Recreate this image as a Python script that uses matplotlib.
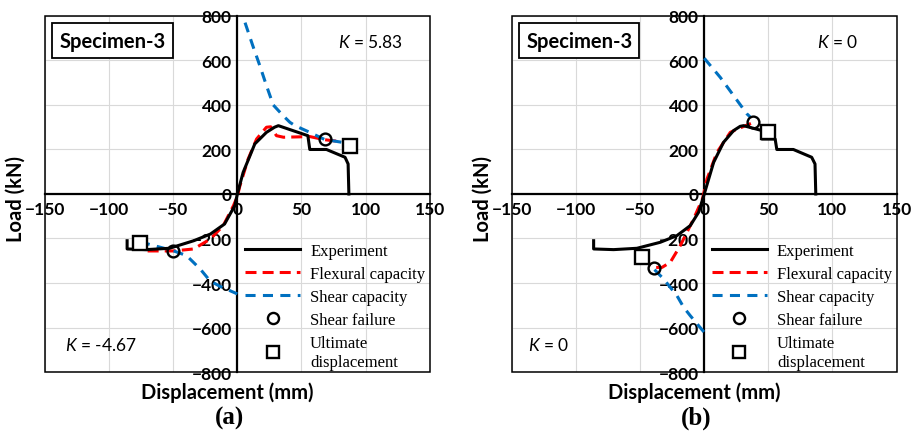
import matplotlib
matplotlib.use("Agg")
import matplotlib.pyplot as plt
from matplotlib.lines import Line2D
from matplotlib.patches import Rectangle

plt.rcParams['font.family'] = ['Lato', 'DejaVu Sans']
plt.rcParams['mathtext.fontset'] = 'custom'
plt.rcParams['mathtext.rm'] = 'Lato'
plt.rcParams['mathtext.it'] = 'Lato:italic'

# ---- data (displacement mm, load kN) ----
x_ticks = [-150, -100, -50, 0, 50, 100, 150]
y_ticks = [-800, -600, -400, -200, 0, 200, 400, 600, 800]

# panel (a), K = 5.83 / -4.67
exp_a_d = [-86, -86, -71, -53, -34, -21, -10, -2, 0, 4.5, 13.6, 22.7, 29, 32, 55, 56.5, 69.5, 84, 86.4, 87]
exp_a_L = [-210, -247, -250, -244, -210, -180, -135, -52, 0, 97, 225, 277, 300, 307, 262, 200, 200, 165, 135, 0]
flex_a_d = [-70, -50, -34, -21, -11, -3, 0, 2, 8.4, 15, 22.7, 26, 30.5, 36, 56.5, 68, 81]
flex_a_L = [-256, -256, -247, -202, -142, -52, -10, 37, 157, 247, 300, 302, 262, 255, 258, 244, 235]
shear_a_pos_d = [6, 12, 17.5, 22.7, 28, 35.7, 41, 45, 56.5, 68, 82]
shear_a_pos_L = [770, 667, 577, 487, 400, 352, 322, 307, 277, 245, 232]
shear_a_neg_d = [-76, -50, -39.6, -29, -21.4, -13.6, 0]
shear_a_neg_L = [-215, -255, -277, -337, -390, -415, -449]
fail_a_d = [68, -50]
fail_a_L = [245, -255]
ult_a_d = [88, -76]
ult_a_L = [217, -222]

# panel (b), K = 0
exp_b_d = [-86.3, -86.3, -70.7, -52.5, -34.3, -21.3, -10.9, -4.4, 0, 7.3, 15, 22.9, 28, 30.6,
           45, 45, 55.3, 56.6, 69.5, 83.8, 86.4, 87]
exp_b_L = [-210, -247, -250, -244, -217, -187, -142, -82, 0, 142, 232, 285, 304, 307,
           285, 247, 247, 200, 200, 165, 135, 0]
flex_b_d = [-48.5, -39.5, -33, -26.5, -18.7, -8.3, -1.3, 2.1, 9.9, 20.3, 28, 38.5]
flex_b_L = [-290, -330, -330, -307, -232, -112, -20, 67, 187, 277, 297, 322]
shear_b_pos_d = [0, 12.5, 22.9, 33.3, 36]
shear_b_pos_L = [610, 524, 442, 360, 345]
shear_b_neg_d = [-48.5, -39.5, -31.7, -21.3, -16.1, -10.9, 0]
shear_b_neg_L = [-285, -336, -382, -457, -509, -547, -622]
fail_b_d = [38.4, -39.5]
fail_b_L = [325, -334]
ult_b_d = [49.4, -48.5]
ult_b_L = [277, -285]

legend_labels = ["Experiment", "Flexural capacity", "Shear capacity", "Shear failure", "Ultimate\ndisplacement"]

RED = "#FF0000"
BLUE = "#0070C0"
RED_DASH = (3.6, 2.0)
BLUE_DASH = (3.3, 2.4)


def draw_panel(ax, exp, flex, shear_pos, shear_neg, fail, ult, k_top, k_bot, tag):
    ax.set_xlim(-150, 150)
    ax.set_ylim(-800, 800)
    ax.set_xticks(x_ticks)
    ax.set_yticks(y_ticks)
    ax.grid(True, color="#D9D9D9", lw=0.8, zorder=0)
    ax.set_axisbelow(True)

    for s in ["top", "right"]:
        ax.spines[s].set_visible(False)
    ax.spines["left"].set_position(("data", 0))
    ax.spines["bottom"].set_position(("data", 0))
    ax.spines["left"].set_linewidth(1.6)
    ax.spines["bottom"].set_linewidth(1.6)
    ax.add_patch(Rectangle((0, 0), 1, 1, transform=ax.transAxes, fill=False,
                           lw=1.1, ec="black", clip_on=False, zorder=3))
    ax.tick_params(length=0, labelsize=12.5)
    ax.tick_params(axis="y", pad=4)
    ax.tick_params(axis="x", pad=5)
    for lab in ax.get_xticklabels() + ax.get_yticklabels():
        lab.set_fontweight("bold")

    ax.plot(flex[0], flex[1], color=RED, lw=2.2, dashes=RED_DASH, zorder=3)
    ax.plot(shear_pos[0], shear_pos[1], color=BLUE, lw=2.2, dashes=BLUE_DASH, zorder=3)
    ax.plot(shear_neg[0], shear_neg[1], color=BLUE, lw=2.2, dashes=BLUE_DASH, zorder=3)
    ax.plot(exp[0], exp[1], color="black", lw=2.2, zorder=4)
    ax.plot(fail[0], fail[1], ls="none", marker="o", ms=8.5, mfc="none", mec="black", mew=1.7, zorder=5)
    ax.plot(ult[0], ult[1], ls="none", marker="s", ms=9.5, mfc="white", mec="black", mew=1.7, zorder=5)

    handles = [
        Line2D([], [], color="black", lw=2.2),
        Line2D([], [], color=RED, lw=2.2, dashes=RED_DASH),
        Line2D([], [], color=BLUE, lw=2.2, dashes=BLUE_DASH),
        Line2D([], [], ls="none", marker="o", ms=8, mfc="none", mec="black", mew=1.7),
        Line2D([], [], ls="none", marker="s", ms=8, mfc="white", mec="black", mew=1.7),
    ]
    ax.legend(handles, legend_labels, loc="upper left", bbox_to_anchor=(0.52, 0.362),
              frameon=False, prop={"family": "Liberation Serif", "size": 12},
              handlelength=3.3, handletextpad=0.6, labelspacing=0.42, borderpad=0,
              borderaxespad=0)

    ax.text(0.175, 0.931, "Specimen-3", transform=ax.transAxes, ha="center", va="center",
            fontsize=14.5, fontweight="bold",
            bbox=dict(boxstyle="square,pad=0.35", fc="white", ec="black", lw=1.3), zorder=6)
    ax.text(k_top[0], 0.927, k_top[1], transform=ax.transAxes, ha="center", va="center", fontsize=12.5)
    ax.text(k_bot[0], 0.076, k_bot[1], transform=ax.transAxes, ha="center", va="center", fontsize=12.5)
    ax.text(0.475, -0.056, "Displacement (mm)", transform=ax.transAxes, ha="center", va="center",
            fontsize=14.5, fontweight="bold")
    ax.text(-0.077, 0.49, "Load (kN)", transform=ax.transAxes, ha="center", va="center",
            rotation=90, fontsize=14.5, fontweight="bold")
    ax.text(0.48, -0.128, tag, transform=ax.transAxes, ha="center", va="center",
            fontsize=18, fontweight="bold", family="Liberation Serif")


fig = plt.figure(figsize=(9.2, 4.35), dpi=100)
ax_a = fig.add_axes([0.049, 0.1425, 0.418, 0.8185])
ax_b = fig.add_axes([0.5565, 0.1425, 0.418, 0.8185])

draw_panel(ax_a, (exp_a_d, exp_a_L), (flex_a_d, flex_a_L), (shear_a_pos_d, shear_a_pos_L),
           (shear_a_neg_d, shear_a_neg_L), (fail_a_d, fail_a_L), (ult_a_d, ult_a_L),
           (0.845, r"$K$ = 5.83"), (0.145, r"$K$ = -4.67"), "(a)")
draw_panel(ax_b, (exp_b_d, exp_b_L), (flex_b_d, flex_b_L), (shear_b_pos_d, shear_b_pos_L),
           (shear_b_neg_d, shear_b_neg_L), (fail_b_d, fail_b_L), (ult_b_d, ult_b_L),
           (0.847, r"$K$ = 0"), (0.094, r"$K$ = 0"), "(b)")

fig.savefig("out.png", dpi=100)
